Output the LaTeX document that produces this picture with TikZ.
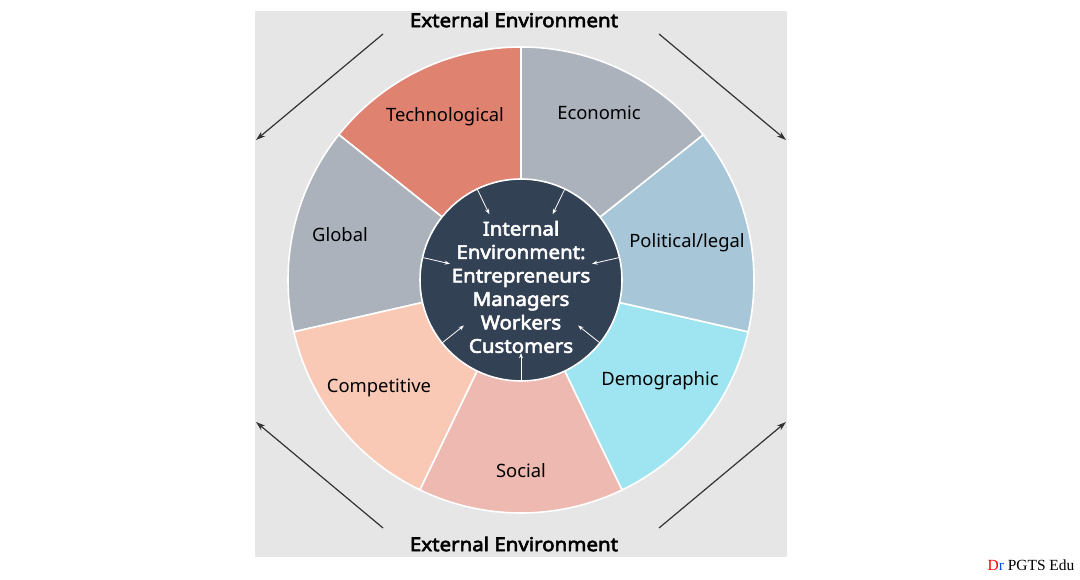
\documentclass[tikz,border=0pt]{standalone}
\usepackage{fontspec}
\setmainfont{Noto Sans}
\newfontfamily\heavyfont{Noto Sans}[FakeBold=3,FakeStretch=1.075]
\newfontfamily\markfont{Liberation Serif}
\tikzset{>=stealth}
\definecolor{background}{HTML}{E6E6E6}
\definecolor{techColor}{HTML}{E08270}
\definecolor{grayColor}{HTML}{ABB2BB}
\definecolor{polColor}{HTML}{A7C7D9}
\definecolor{demoColor}{HTML}{9FE5F1}
\definecolor{socColor}{HTML}{EDB9B1}
\definecolor{compColor}{HTML}{F9C9B5}
\definecolor{innerColor}{HTML}{334155}
\definecolor{penColor}{HTML}{333333}
\tikzset{
  sector/.style={draw=white,line width=1.2pt},
  label/.style={font=\fontsize{13.8}{16}\selectfont,text=black},
  inarrow/.style={->,white,line width=0.6pt,>={Stealth[length=4pt,width=3pt]}},
  outarrow/.style={->,penColor,line width=0.9pt,>={Stealth[length=7pt,width=4.5pt]}}
}
\usetikzlibrary{arrows.meta}
\begin{document}
\begin{tikzpicture}[x=0.75pt,y=0.75pt]
\useasboundingbox (0,0) rectangle (1080,580);
\fill[background] (255,23) rectangle (787,569);
\begin{scope}[shift={(521,300)}]
\fill[techColor,sector] (0,0) -- (90:233) arc (90:141.43:233) -- cycle;% technological
\fill[grayColor,sector] (0,0) -- (141.43:233) arc (141.43:192.86:233) -- cycle;% global
\fill[compColor,sector] (0,0) -- (192.86:233) arc (192.86:244.29:233) -- cycle;% competitive
\fill[socColor,sector] (0,0) -- (244.29:233) arc (244.29:295.71:233) -- cycle;% social
\fill[demoColor,sector] (0,0) -- (295.71:233) arc (295.71:347.14:233) -- cycle;% demographic
\fill[polColor,sector] (0,0) -- (-12.86:233) arc (-12.86:38.57:233) -- cycle;% political/legal
\fill[grayColor,sector] (0,0) -- (38.57:233) arc (38.57:90:233) -- cycle;% economic
\fill[innerColor,sector] (0,0) circle (101);
\draw[inarrow] (64.29:101) -- (64.29:73);
\draw[inarrow] (115.71:101) -- (115.71:73);
\draw[inarrow] (167.14:101) -- (167.14:73);
\draw[inarrow] (218.57:101) -- (218.57:73);
\draw[inarrow] (270:101) -- (270:73);
\draw[inarrow] (321.43:101) -- (321.43:73);
\draw[inarrow] (12.86:101) -- (12.86:73);
\end{scope}
\node[label] (tech) at (445,463) {Technological};
\node[label] (econ) at (599,467) {Economic};
\node[label] (pol) at (687,337) {Political/legal};
\node[label] (demo) at (660,199) {Demographic};
\node[label] (soc) at (521,109) {Social};
\node[label] (comp) at (379,192) {Competitive};
\node[label] (glob) at (340,345) {Global};
\node[align=center,text=white,font=\heavyfont\fontsize{14.3}{17.6}\selectfont] (internal) at (521,293)
  {Internal\\Environment:\\Entrepreneurs\\Managers\\Workers\\Customers};
\node[font=\heavyfont\fontsize{14.3}{17}\selectfont] (exttop) at (514,560) {External Environment};
\node[font=\heavyfont\fontsize{14.3}{17}\selectfont] (extbot) at (514,36) {External Environment};
\draw[outarrow] (383,546) -- (256,440);
\draw[outarrow] (659,546) -- (786,440);
\draw[outarrow] (383,52) -- (256,158);
\draw[outarrow] (659,52) -- (786,158);
\node[font=\markfont\fontsize{11.6}{13}\selectfont] (mark) at (1031,15) {\textcolor{red}{D}\textcolor{blue!70!cyan}{r} PGTS Edu};
\end{tikzpicture}
\end{document}
